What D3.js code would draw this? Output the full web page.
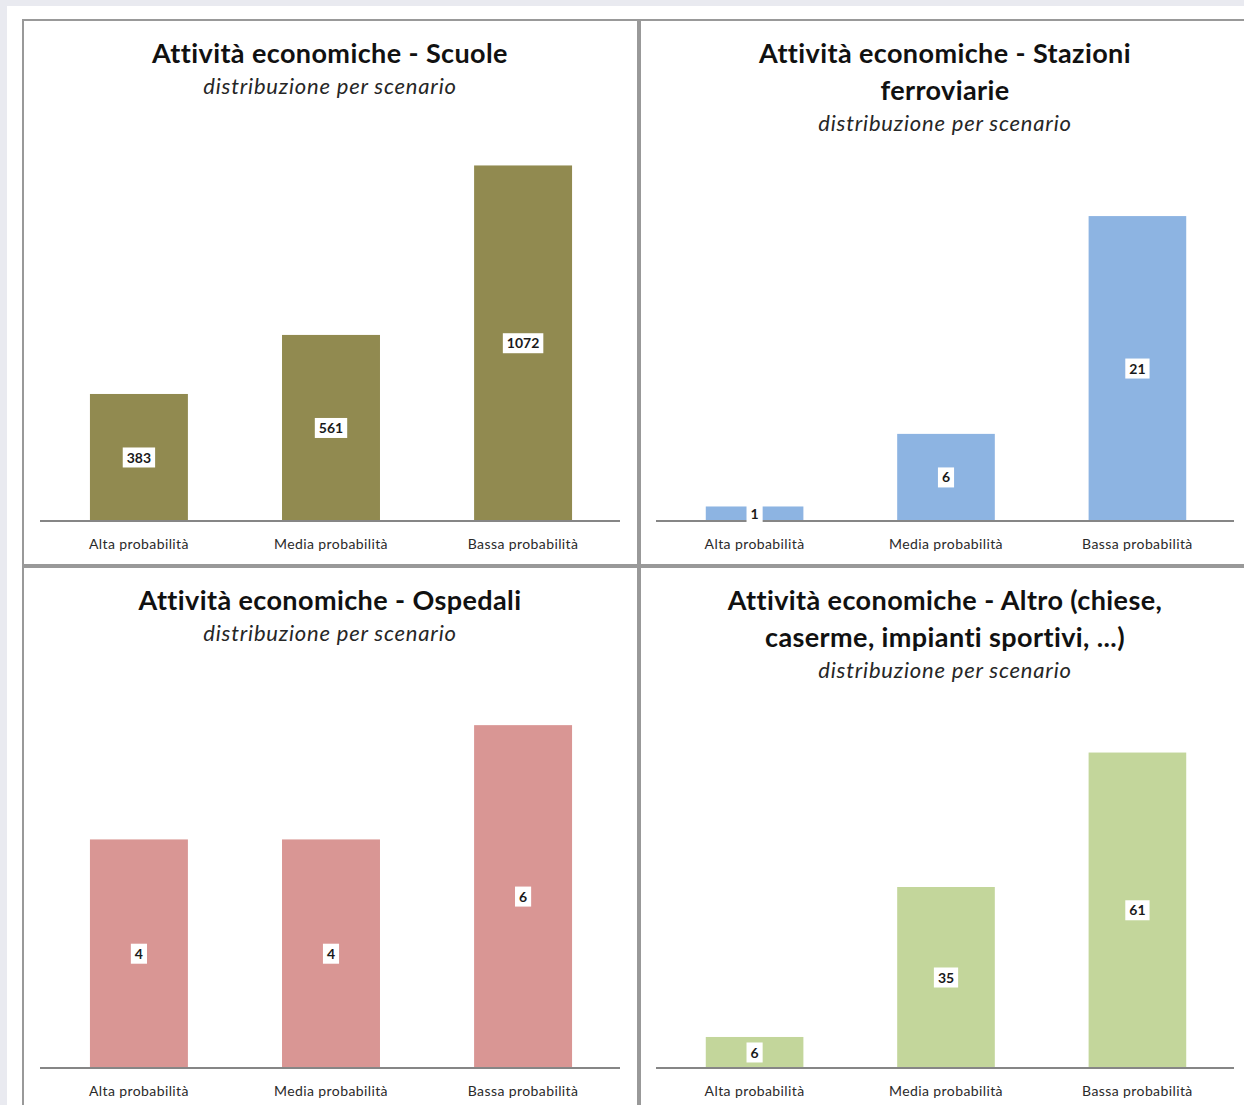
<!DOCTYPE html>
<html>
<head>
<meta charset="utf-8">
<script src="https://cdn.jsdelivr.net/npm/d3@7"></script>
<style>
  html, body { margin: 0; padding: 0; background: #e9eaf0; }
  svg { display: block; }
</style>
</head>
<body>
<svg id="chart" width="1244" height="1105"></svg>
<script>
// categories shared by all four charts
const categories = ['Alta probabilità', 'Media probabilità', 'Bassa probabilità'];

// values per chart
const scuole = [383, 561, 1072];
const stazioni = [1, 6, 21];
const ospedali = [4, 4, 6];
const altro = [6, 35, 61];

const titles = [
  ['Attività economiche - Scuole'],
  ['Attività economiche - Stazioni', 'ferroviarie'],
  ['Attività economiche - Ospedali'],
  ['Attività economiche - Altro (chiese,', 'caserme, impianti sportivi, ...)']
];
const subtitle = 'distribuzione per scenario';
const axisMax = [1200, 25, 7, 70];

const font = 'Lato, "Open Sans", sans-serif';

// panel layout
const panels = [
  {values: scuole, color: '#918a50', x0: 23, y0: 20, x1: 638, y1: 565, axisL: 40, axisR: 620, base: 521, h: 398},
  {values: stazioni, color: '#8db4e2', x0: 640, y0: 20, x1: 1250, y1: 565, axisL: 656, axisR: 1234, base: 521, h: 363},
  {values: ospedali, color: '#d99694', x0: 23, y0: 567, x1: 638, y1: 1112, axisL: 40, axisR: 620, base: 1068, h: 400},
  {values: altro, color: '#c3d69b', x0: 640, y0: 567, x1: 1250, y1: 1112, axisL: 656, axisR: 1234, base: 1068, h: 362}
];

const svg = d3.select('#chart');

// white page area
svg.append('rect')
  .attr('x', 7).attr('y', 6)
  .attr('width', 1244).attr('height', 1105)
  .attr('fill', '#ffffff');

panels.forEach(function(p, i) {
  const g = svg.append('g');

  g.append('rect')
    .attr('x', p.x0).attr('y', p.y0)
    .attr('width', p.x1 - p.x0).attr('height', p.y1 - p.y0)
    .attr('fill', '#ffffff')
    .attr('stroke', '#999999')
    .attr('stroke-width', 2);

  const cx = (p.axisL + p.axisR) / 2;

  // title lines
  const t = titles[i];
  t.forEach(function(line, k) {
    g.append('text')
      .attr('x', cx)
      .attr('y', p.y0 + 43 + k * 37)
      .attr('text-anchor', 'middle')
      .attr('font-family', font)
      .attr('font-weight', 'bold')
      .attr('font-size', 27)
      .attr('letter-spacing', 0.4)
      .attr('fill', '#111111')
      .text(line);
  });
  g.append('text')
    .attr('x', cx)
    .attr('y', p.y0 + 74 + (t.length - 1) * 37)
    .attr('text-anchor', 'middle')
    .attr('font-family', font)
    .attr('font-style', 'italic')
    .attr('font-size', 22)
    .attr('letter-spacing', 0.8)
    .attr('fill', '#262626')
    .text(subtitle);

  const x = d3.scaleBand()
    .domain(categories)
    .range([p.axisL, p.axisR + 2])
    .paddingInner(0.49)
    .paddingOuter(0.26);

  const y = d3.scaleLinear()
    .domain([0, axisMax[i]])
    .range([p.base, p.base - p.h]);

  const data = categories.map(function(c, j) { return {cat: c, value: p.values[j]}; });

  g.selectAll('rect.bar')
    .data(data)
    .enter()
    .append('rect')
    .attr('class', 'bar')
    .attr('x', function(d) { return x(d.cat); })
    .attr('y', function(d) { return y(d.value); })
    .attr('width', x.bandwidth())
    .attr('height', function(d) { return y(0) - y(d.value); })
    .attr('fill', p.color);

  // category axis
  const axis = g.append('g')
    .attr('transform', 'translate(0,' + p.base + ')')
    .call(d3.axisBottom(x).tickSize(0).tickPadding(18));
  axis.select('.domain')
    .attr('stroke', '#868686')
    .attr('stroke-width', 2)
    .attr('d', 'M' + p.axisL + ',0H' + p.axisR);
  axis.selectAll('text')
    .attr('font-family', font)
    .attr('font-size', 14)
    .attr('letter-spacing', 0.4)
    .attr('fill', '#2a2a2a');

  // value labels in white boxes
  const labels = g.selectAll('g.lbl')
    .data(data)
    .enter()
    .append('g')
    .attr('class', 'lbl')
    .attr('transform', function(d) {
      return 'translate(' + (x(d.cat) + x.bandwidth() / 2) + ',' + ((y(d.value) + y(0)) / 2) + ')';
    });
  labels.append('rect').attr('fill', '#ffffff');
  labels.append('text')
    .attr('text-anchor', 'middle')
    .attr('dy', '0.36em')
    .attr('font-family', font)
    .attr('font-weight', 'bold')
    .attr('font-size', 14)
    .attr('fill', '#1a1a1a')
    .text(function(d) { return d.value; });
  labels.each(function() {
    const gl = d3.select(this);
    const w = gl.select('text').node().getComputedTextLength();
    gl.select('rect')
      .attr('x', -w / 2 - 4).attr('y', -10)
      .attr('width', w + 8).attr('height', 20);
  });
});
</script>
</body>
</html>
